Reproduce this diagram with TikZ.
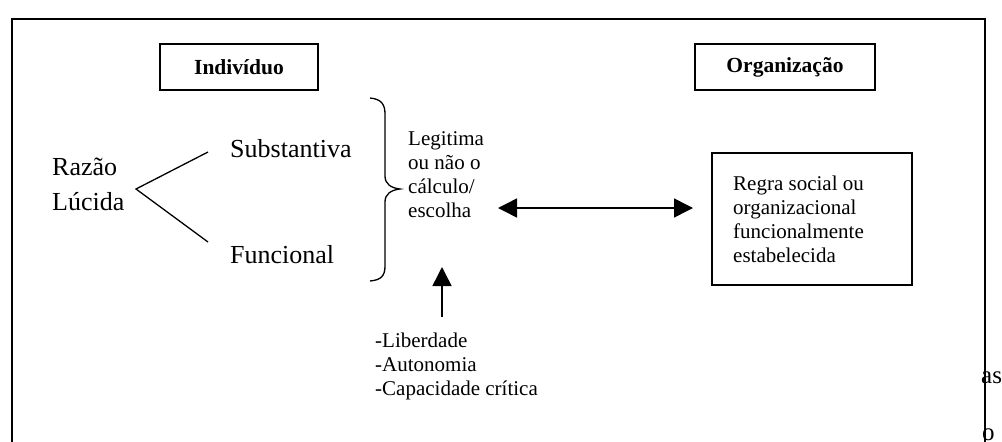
\documentclass[tikz,border=0pt]{standalone}
\usepackage{fontspec}
\setmainfont{Liberation Serif}
\usetikzlibrary{arrows.meta}
\begin{document}
\begin{tikzpicture}[x=1pt,y=-1pt,
  big/.style={font=\fontsize{26}{35}\selectfont, inner sep=0pt, anchor=base west},
  small/.style={font=\fontsize{21}{24}\selectfont, inner sep=0pt, anchor=base west},
  head/.style={draw, line width=1.6pt, minimum width=158pt, minimum height=46pt,
    font=\bfseries\fontsize{21.5}{24}\selectfont},
  frame/.style={line width=2.2pt},
  link/.style={line width=1.3pt},
  bigarrow/.style={line width=1.5pt, -{Triangle[length=19pt,width=19pt]}},
  dblarrow/.style={line width=1.5pt, {Triangle[length=19pt,width=19pt]}-{Triangle[length=19pt,width=19pt]}}]
\useasboundingbox (0,0) rectangle (1002,442);
\begin{scope}
\clip (0,0) rectangle (1002,442);
% text continuing beyond the frame
\node[font=\fontsize{25}{30}\selectfont, inner sep=0pt, anchor=base west] (frag1) at (981,383) {as};
\node[font=\fontsize{25}{30}\selectfont, inner sep=0pt, anchor=base west] (frag2) at (982,440) {o};
% outer frame (open at the bottom)
\draw[frame] (12,442) -- (12,19) -- (985,19) -- (985,442);
\end{scope}

% header boxes
\node[head] (ind) at (239,67) {Indivíduo};
\node[head, minimum width=180pt] (org) at (785,67) {Organização};

% left branch
\node[big] (razao) at (52,175) {Razão};
\node[big] (lucida) at (52,210) {Lúcida};
\coordinate (apex) at (136,189);
\node[big] (subst) at (230,157) {Substantiva};
\node[big] (func) at (230,263) {Funcional};
\coordinate (sE) at (208,152);
\coordinate (fE) at (208,242);
\draw[link] (sE) -- (apex) -- (fE);

% brace
\draw[line width=1.3pt] (370,98) .. controls (381,99) and (385,104) .. (385,114)
  -- (385,176) .. controls (385,184) and (391,188) .. (400,189)
  .. controls (391,190) and (385,194) .. (385,202)
  -- (385,266) .. controls (385,276) and (381,280) .. (370,281);

% middle text
\node[small] (l1) at (408,145) {Legitima};
\node[small] (l2) at (408,169) {ou não o};
\node[small] (l3) at (408,193) {cálculo/};
\node[small] (l4) at (408,217) {escolha};

% right box
\node[draw, line width=1.6pt, minimum width=200pt, minimum height=132pt] (rule) at (812,219) {};
\node[small] (r1) at (733,190) {Regra social ou};
\node[small] (r2) at (733,214) {organizacional};
\node[small] (r3) at (733,238) {funcionalmente};
\node[small] (r4) at (733,262) {estabelecida};

% double arrow
\coordinate (aL) at (498,208);
\coordinate (aR) at (693,208);
\draw[dblarrow] (aL) -- (aR);

% factors list and upward arrow
\node[small] (f1) at (375,347) {-Liberdade};
\node[small] (f2) at (375,371) {-Autonomia};
\node[small] (f3) at (375,395) {-Capacidade crítica};
\coordinate (upT) at (442,267);
\coordinate (upB) at (442,317);
\draw[bigarrow] (upB) -- (upT);
\end{tikzpicture}
\end{document}
